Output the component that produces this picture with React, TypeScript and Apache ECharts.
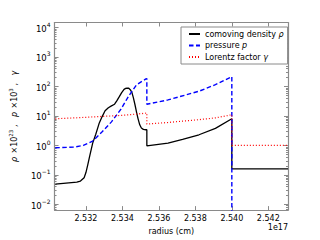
import React, { useEffect, useRef } from "react";
import * as echarts from "echarts";

// radius in units of 1e17 cm
const densityR = [2.53032, 2.5315, 2.5317, 2.5319, 2.532, 2.5321, 2.5322, 2.53237, 2.53254, 2.53272, 2.53289, 2.53305, 2.53323, 2.5334, 2.53357, 2.5337, 2.53383, 2.53396, 2.53409, 2.53418, 2.53425, 2.53435, 2.53443, 2.53452, 2.5346, 2.53469, 2.53478, 2.53486, 2.53495, 2.53504, 2.53515, 2.53529, 2.53534, 2.53534, 2.5365, 2.5373, 2.5382, 2.5391, 2.54, 2.54, 2.54308];
const densityV = [0.049, 0.057, 0.062, 0.08, 0.12, 0.22, 0.42, 1.2, 2.4, 5.5, 9.5, 15, 19, 22, 25, 33, 45, 62, 80, 86, 88, 87, 78, 63, 42, 24, 13, 8, 5, 3.9, 3.5, 3.4, 3.4, 0.97, 1.2, 1.6, 2.3, 3.8, 8.0, 0.16, 0.16];

const pressureR = [2.53032, 2.53135, 2.53186, 2.53237, 2.53289, 2.5334, 2.53392, 2.53435, 2.53478, 2.53529, 2.53534, 2.53534, 2.5365, 2.5382, 2.5391, 2.54, 2.54];
const pressureV = [0.83, 0.88, 1.0, 1.4, 2.9, 6.3, 17, 48, 115, 180, 185, 25, 35, 69, 115, 215, 0.001];

const lorentzR = [2.53032, 2.532, 2.534, 2.53534, 2.53534, 2.5365, 2.5382, 2.5391, 2.54, 2.54, 2.54308];
const lorentzV = [8.0, 9.0, 10.5, 12.5, 5.3, 6.0, 7.5, 8.6, 11, 1.0, 1.0];

const xTicks = [2.532, 2.534, 2.536, 2.538, 2.54, 2.542];
const yMajor = [0.01, 0.1, 1, 10, 100, 1000, 10000];
const yMinor: number[] = [];
for (const d of [0.001, 0.01, 0.1, 1, 10, 100, 1000]) {
  for (let k = 2; k <= 9; k++) yMinor.push(+(d * k).toPrecision(3));
}

const seriesNames = ["comoving density ρ", "pressure p", "Lorentz factor γ"];
const legendRich: Record<string, string> = {
  "comoving density ρ": "{t|comoving density }{i|ρ}",
  "pressure p": "{t|pressure }{i|p}",
  "Lorentz factor γ": "{t|Lorentz factor }{i|γ}",
};

const FONT = "DejaVu Sans";
const FRAME = "#8a8a8a";

const zip = (a: number[], b: number[]) => a.map((x, i) => [x, b[i]]);

export default function App() {
  const ref = useRef<HTMLDivElement>(null);
  useEffect(() => {
    if (!ref.current) return;
    const chart = echarts.init(ref.current, undefined, { renderer: "svg" });
    const xMin = 2.53028;
    const xMax = 2.54308;
    const yMin = 0.0064;
    const yMax = 14800;
    const axisLine = { show: true, lineStyle: { color: FRAME, width: 1.2 } };
    const sup = (n: number) => {
      const e = Math.round(Math.log10(n));
      return `{b|10}{s|${e < 0 ? "−" + -e : e}}`;
    };
    const xBase = (pos: "bottom" | "top", labels: boolean) => ({
      type: "value",
      position: pos,
      min: xMin,
      max: xMax,
      axisLine,
      splitLine: { show: false },
      axisTick: { show: true, inside: true, length: 4, lineStyle: { color: FRAME }, customValues: xTicks },
      axisLabel: {
        show: labels,
        customValues: xTicks,
        formatter: (v: number) => v.toFixed(3),
        fontFamily: FONT,
        fontSize: 8,
        color: "#000",
        margin: 4,
      },
    });
    const yBase = (pos: "left" | "right", ticks: number[], len: number, labels: boolean, line: boolean) => ({
      type: "log",
      logBase: 10,
      position: pos,
      min: yMin,
      max: yMax,
      axisLine: line ? axisLine : { show: false },
      splitLine: { show: false },
      minorTick: { show: false },
      axisTick: { show: true, inside: true, length: len, lineStyle: { color: FRAME }, customValues: ticks },
      axisLabel: {
        show: labels,
        customValues: yMajor,
        formatter: (v: number) => sup(v),
        color: "#000",
        margin: 4,
        rich: {
          b: { fontFamily: FONT, fontSize: 8.5, color: "#000", lineHeight: 12, verticalAlign: "bottom" },
          s: { fontFamily: FONT, fontSize: 6, color: "#000", lineHeight: 12, verticalAlign: "top" },
        },
      },
    });
    const yLeft: any = yBase("left", yMajor, 4, true, true);
    yLeft.name = "{i|ρ} {t|×10}{s|23}{t| ,   }{i|p} {t|×10}{s|3}{t| ,   }{i|γ}";
    yLeft.nameLocation = "middle";
    yLeft.nameRotate = 90;
    yLeft.nameGap = 21;
    yLeft.nameTextStyle = {
      rich: {
        i: { fontFamily: FONT, fontStyle: "italic", fontSize: 8, color: "#000" },
        t: { fontFamily: FONT, fontSize: 8, color: "#000" },
        s: { fontFamily: FONT, fontSize: 5.5, color: "#000", verticalAlign: "top", lineHeight: 10 },
      },
    };

    chart.setOption({
      animation: false,
      backgroundColor: "#fff",
      grid: { left: 39.3, top: 22.5, right: 32, bottom: 24, containLabel: false },
      xAxis: [
        {
          ...xBase("bottom", true),
          name: "radius (cm)",
          nameLocation: "middle",
          nameGap: 16,
          nameTextStyle: { fontFamily: FONT, fontSize: 8, color: "#000" },
        },
        xBase("top", false),
      ],
      yAxis: [
        yLeft,
        yBase("left", yMinor, 2, false, false),
        yBase("right", yMajor, 4, false, true),
        yBase("right", yMinor, 2, false, false),
      ],
      legend: {
        orient: "vertical",
        left: 181,
        top: 27,
        data: seriesNames,
        itemWidth: 11,
        itemHeight: 8,
        itemGap: 3.5,
        padding: [3, 4, 3, 7],
        backgroundColor: "#fff",
        borderColor: FRAME,
        borderWidth: 1,
        borderRadius: 0,
        itemStyle: { opacity: 0 },
        formatter: (n: string) => legendRich[n],
        textStyle: {
          fontFamily: FONT,
          fontSize: 8,
          color: "#000",
          rich: {
            t: { fontFamily: FONT, fontSize: 8, color: "#000" },
            i: { fontFamily: FONT, fontSize: 8, fontStyle: "italic", color: "#000" },
          },
        },
      },
      graphic: [
        {
          type: "text",
          x: 288,
          y: 223,
          style: { text: "1e17", align: "right", verticalAlign: "top", font: `8px "${FONT}"`, fill: "#000" },
        },
      ],
      series: [
        {
          name: seriesNames[0],
          type: "line",
          data: zip(densityR, densityV),
          showSymbol: false,
          symbol: "none",
          lineStyle: { color: "#000", width: 1.3 },
          itemStyle: { color: "#000" },
        },
        {
          name: seriesNames[1],
          type: "line",
          data: zip(pressureR, pressureV),
          showSymbol: false,
          symbol: "none",
          lineStyle: { color: "#0000ff", width: 1.4, type: [4.5, 2.5] },
          itemStyle: { color: "#0000ff" },
        },
        {
          name: seriesNames[2],
          type: "line",
          data: zip(lorentzR, lorentzV),
          showSymbol: false,
          symbol: "none",
          lineStyle: { color: "#ff0000", width: 1.2, type: [1, 2] },
          itemStyle: { color: "#ff0000" },
        },
      ],
    });
    return () => chart.dispose();
  }, []);
  return (
    <div
      ref={ref}
      style={{ position: "fixed", left: 0, top: 0, width: 320, height: 240, background: "#fff" }}
    />
  );
}
